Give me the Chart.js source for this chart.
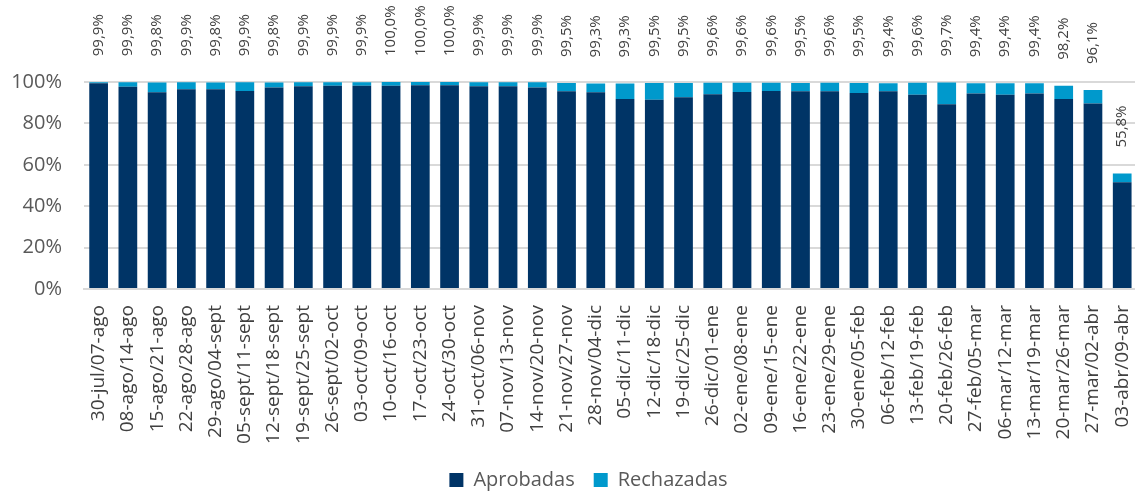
<!DOCTYPE html>
<html>
<head>
<meta charset="utf-8">
<script src="https://cdn.jsdelivr.net/npm/chart.js@4"></script>
<style>
  html, body { margin: 0; padding: 0; background: #fff; overflow: hidden; }
  #wrap { width: 1153px; height: 493px; }
</style>
</head>
<body>
<div id="wrap"><canvas id="barCanvas"></canvas></div>
<script>
const semanas = ["30-jul/07-ago", "08-ago/14-ago", "15-ago/21-ago", "22-ago/28-ago", "29-ago/04-sept",
    "05-sept/11-sept", "12-sept/18-sept", "19-sept/25-sept", "26-sept/02-oct", "03-oct/09-oct",
    "10-oct/16-oct", "17-oct/23-oct", "24-oct/30-oct", "31-oct/06-nov", "07-nov/13-nov",
    "14-nov/20-nov", "21-nov/27-nov", "28-nov/04-dic", "05-dic/11-dic", "12-dic/18-dic",
    "19-dic/25-dic", "26-dic/01-ene", "02-ene/08-ene", "09-ene/15-ene", "16-ene/22-ene",
    "23-ene/29-ene", "30-ene/05-feb", "06-feb/12-feb", "13-feb/19-feb", "20-feb/26-feb",
    "27-feb/05-mar", "06-mar/12-mar", "13-mar/19-mar", "20-mar/26-mar", "27-mar/02-abr",
    "03-abr/09-abr"];

// total (aprobadas + rechazadas), %
const totales = [99.9, 99.9, 99.8, 99.9, 99.8, 99.9, 99.8, 99.9, 99.9, 99.9,
    100.0, 100.0, 100.0, 99.9, 99.9, 99.9, 99.5, 99.3, 99.3, 99.5,
    99.5, 99.6, 99.6, 99.6, 99.5, 99.6, 99.5, 99.4, 99.6, 99.7,
    99.4, 99.4, 99.4, 98.2, 96.1, 55.8];

// aprobadas, % (estimado del gráfico)
const aprobadas = [99.4, 97.7, 95.0, 96.5, 96.5, 95.7, 97.4, 97.9, 98.2, 98.2,
    98.2, 98.4, 98.4, 97.9, 97.9, 97.4, 95.5, 95.0, 91.8, 91.4,
    92.6, 94.1, 95.2, 95.7, 95.5, 95.5, 94.7, 95.5, 93.8, 89.3,
    94.5, 93.8, 94.4, 91.8, 89.6, 51.6];

const rechazadas = totales.map((t, i) => +(t - aprobadas[i]).toFixed(1));

const yTicks = [0, 20, 40, 60, 80, 100];

const fontFam = '"Open Sans", "Liberation Sans", sans-serif';

const totalLabels = {
    id: 'totalLabels',
    afterLayout(chart) {
        // centre the legend like the original
        const lg = chart.legend;
        lg.left += 24;
        lg.top += 7;
        lg.bottom += 7;
    },
    afterDatasetsDraw(chart) {
        const ctx = chart.ctx;
        const y = chart.scales.y;
        const meta = chart.getDatasetMeta(0);
        ctx.save();
        ctx.font = '15px ' + fontFam;
        ctx.fillStyle = '#404040';
        ctx.textAlign = 'left';
        ctx.textBaseline = 'middle';
        meta.data.forEach((bar, i) => {
            const top = y.getPixelForValue(totales[i]);
            ctx.save();
            ctx.translate(bar.x, top - 26);
            ctx.rotate(-Math.PI / 2);
            ctx.fillText(totales[i].toFixed(1).replace('.', ',') + '%', 0, 0);
            ctx.restore();
        });
        ctx.restore();
    }
};

const barCanvas = document.getElementById('barCanvas');

const barChart = new Chart(barCanvas, {
    type: "bar",
    data: {
        labels: semanas,
        datasets: [{
            label: "Aprobadas",
            data: aprobadas,
            backgroundColor: "#003466",
        }, {
            label: "Rechazadas",
            data: rechazadas,
            backgroundColor: "#0099cc",
        }]
    },
    options: {
        responsive: true,
        maintainAspectRatio: false,
        animation: false,
        layout: { padding: { top: 82, left: 0, right: 0, bottom: 0 } },
        datasets: { bar: { categoryPercentage: 1, barPercentage: 0.64 } },
        plugins: {
            legend: {
                position: "bottom",
                labels: {
                    boxWidth: 14, boxHeight: 14, padding: 19,
                    color: "#595959",
                    font: { size: 20, family: fontFam }
                }
            },
            tooltip: { enabled: false }
        },
        scales: {
            x: {
                stacked: true,
                afterFit: (axis) => { axis.height = 155; },
                grid: { display: false },
                border: { color: "#d9d9d9", width: 2 },
                ticks: {
                    minRotation: 90, maxRotation: 90, autoSkip: false,
                    padding: 8,
                    color: "#404040",
                    font: { size: 19, family: fontFam }
                }
            },
            y: {
                stacked: true,
                min: 0, max: 100,
                afterBuildTicks: (axis) => { axis.ticks = yTicks.map(v => ({ value: v })); },
                afterFit: (axis) => { axis.width = 84; },
                grid: { color: "#d9d9d9", lineWidth: 2, drawTicks: false },
                border: { display: false },
                ticks: {
                    padding: 22,
                    color: "#595959",
                    font: { size: 20, family: fontFam },
                    callback: (v) => v + "%"
                }
            }
        }
    },
    plugins: [totalLabels]
});
</script>
</body>
</html>
